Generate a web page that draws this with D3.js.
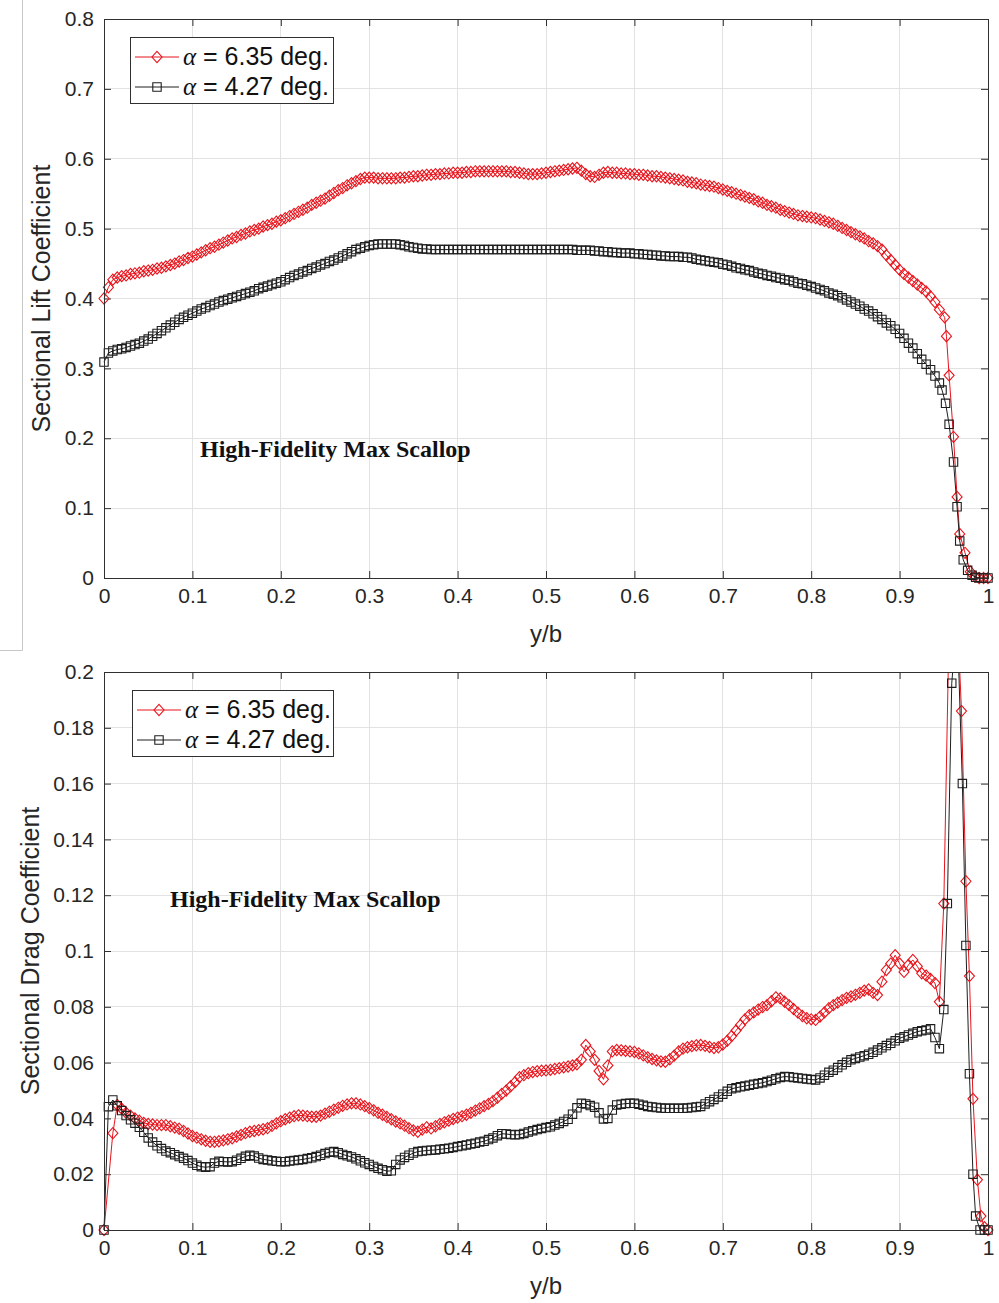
<!DOCTYPE html>
<html>
<head>
<meta charset="utf-8">
<script src="https://cdn.jsdelivr.net/npm/d3@7"></script>
<style>
  body { margin: 0; background: #fff; }
  svg { display: block; }
</style>
</head>
<body>
<svg id="chart" width="999" height="1303"></svg>
<script>
// Spanwise stations (y/b) shared by all four distributions, root to 0.945
const stations = [
  0.000,0.005,0.010,0.015,0.020,0.025,0.030,0.035,0.040,0.045,
  0.050,0.055,0.060,0.065,0.070,0.075,0.080,0.085,0.090,0.095,
  0.100,0.105,0.110,0.115,0.120,0.125,0.130,0.135,0.140,0.145,
  0.150,0.155,0.160,0.165,0.170,0.175,0.180,0.185,0.190,0.195,
  0.200,0.205,0.210,0.215,0.220,0.225,0.230,0.235,0.240,0.245,
  0.250,0.255,0.260,0.265,0.270,0.275,0.280,0.285,0.290,0.295,
  0.300,0.305,0.310,0.315,0.320,0.325,0.330,0.335,0.340,0.345,
  0.350,0.355,0.360,0.365,0.370,0.375,0.380,0.385,0.390,0.395,
  0.400,0.405,0.410,0.415,0.420,0.425,0.430,0.435,0.440,0.445,
  0.450,0.455,0.460,0.465,0.470,0.475,0.480,0.485,0.490,0.495,
  0.500,0.505,0.510,0.515,0.520,0.525,0.530,0.535,0.540,0.545,
  0.550,0.555,0.560,0.565,0.570,0.575,0.580,0.585,0.590,0.595,
  0.600,0.605,0.610,0.615,0.620,0.625,0.630,0.635,0.640,0.645,
  0.650,0.655,0.660,0.665,0.670,0.675,0.680,0.685,0.690,0.695,
  0.700,0.705,0.710,0.715,0.720,0.725,0.730,0.735,0.740,0.745,
  0.750,0.755,0.760,0.765,0.770,0.775,0.780,0.785,0.790,0.795,
  0.800,0.805,0.810,0.815,0.820,0.825,0.830,0.835,0.840,0.845,
  0.850,0.855,0.860,0.865,0.870,0.875,0.880,0.885,0.890,0.895,
  0.900,0.905,0.910,0.915,0.920,0.925,0.930,0.935,0.940,0.945
];

// Sectional lift coefficient, alpha = 6.35 deg
const liftHigh = [
  0.400,0.416,0.427,0.430,0.432,0.433,0.435,0.436,0.437,0.439,
  0.440,0.441,0.443,0.444,0.446,0.448,0.450,0.453,0.455,0.458,
  0.460,0.463,0.466,0.469,0.472,0.474,0.477,0.480,0.483,0.486,
  0.488,0.491,0.493,0.496,0.498,0.500,0.503,0.505,0.507,0.510,
  0.512,0.515,0.518,0.521,0.524,0.527,0.530,0.534,0.537,0.540,
  0.543,0.547,0.551,0.555,0.558,0.562,0.565,0.568,0.571,0.573,
  0.573,0.573,0.572,0.572,0.572,0.572,0.572,0.573,0.573,0.574,
  0.575,0.575,0.576,0.577,0.577,0.578,0.578,0.579,0.579,0.580,
  0.580,0.580,0.581,0.581,0.582,0.582,0.582,0.582,0.582,0.582,
  0.582,0.582,0.581,0.581,0.580,0.579,0.578,0.578,0.578,0.579,
  0.580,0.581,0.582,0.583,0.584,0.585,0.586,0.587,0.583,0.578,
  0.575,0.574,0.577,0.580,0.581,0.580,0.580,0.579,0.579,0.578,
  0.578,0.577,0.577,0.576,0.575,0.575,0.574,0.573,0.572,0.571,
  0.570,0.569,0.567,0.566,0.565,0.563,0.562,0.561,0.560,0.558,
  0.556,0.554,0.552,0.550,0.548,0.546,0.544,0.542,0.539,0.537,
  0.534,0.532,0.530,0.527,0.525,0.523,0.521,0.519,0.518,0.517,
  0.516,0.515,0.513,0.511,0.509,0.507,0.504,0.501,0.498,0.495,
  0.492,0.489,0.486,0.482,0.479,0.475,0.470,0.462,0.455,0.448,
  0.441,0.435,0.430,0.425,0.420,0.415,0.410,0.403,0.395,0.384
];
const liftHighTip = [
  [0.951,0.373],[0.953,0.346],[0.956,0.290],[0.961,0.202],[0.965,0.116],
  [0.968,0.063],[0.974,0.036],[0.980,0.009],[0.985,0.002],[0.990,0],[0.995,0],[1.000,0]
];

// Sectional lift coefficient, alpha = 4.27 deg
const liftLow = [
  0.309,0.322,0.325,0.327,0.328,0.330,0.332,0.334,0.336,0.339,
  0.342,0.346,0.350,0.354,0.358,0.362,0.366,0.370,0.373,0.376,
  0.379,0.382,0.385,0.387,0.390,0.392,0.395,0.397,0.399,0.401,
  0.403,0.405,0.407,0.409,0.411,0.414,0.416,0.418,0.420,0.422,
  0.424,0.427,0.430,0.433,0.435,0.438,0.440,0.443,0.445,0.448,
  0.450,0.453,0.455,0.458,0.461,0.464,0.467,0.470,0.472,0.474,
  0.476,0.477,0.478,0.478,0.478,0.478,0.478,0.477,0.476,0.474,
  0.473,0.472,0.471,0.471,0.470,0.470,0.470,0.470,0.470,0.470,
  0.470,0.470,0.470,0.470,0.470,0.470,0.470,0.470,0.470,0.470,
  0.470,0.470,0.470,0.470,0.470,0.470,0.470,0.470,0.470,0.470,
  0.470,0.470,0.470,0.470,0.470,0.470,0.470,0.469,0.469,0.469,
  0.469,0.468,0.468,0.467,0.467,0.466,0.466,0.465,0.465,0.465,
  0.464,0.464,0.463,0.463,0.462,0.462,0.461,0.461,0.460,0.460,
  0.460,0.459,0.459,0.458,0.456,0.455,0.454,0.453,0.452,0.451,
  0.449,0.448,0.446,0.444,0.443,0.441,0.440,0.438,0.436,0.435,
  0.433,0.432,0.430,0.429,0.427,0.426,0.424,0.422,0.421,0.419,
  0.417,0.415,0.413,0.411,0.408,0.406,0.404,0.401,0.398,0.395,
  0.392,0.389,0.385,0.382,0.378,0.374,0.370,0.365,0.361,0.356,
  0.350,0.343,0.336,0.329,0.321,0.313,0.306,0.298,0.289,0.279
];
const liftLowTip = [
  [0.948,0.269],[0.952,0.250],[0.956,0.220],[0.961,0.166],[0.965,0.102],[0.968,0.053],
  [0.972,0.026],[0.977,0.011],[0.982,0.004],[0.986,0.001],[0.990,0],[0.995,0],[1.000,0]
];

// Sectional drag coefficient, alpha = 6.35 deg (null: no sample at that station)
const dragHigh = [
  0,null,0.0347,0.0448,0.0435,0.0420,0.0410,0.0400,0.0392,0.0384,
  0.0380,0.0378,0.0376,0.0376,0.0376,0.0372,0.0367,0.0363,0.0355,0.0346,
  0.0337,0.0331,0.0325,0.0320,0.0316,0.0316,0.0318,0.0321,0.0325,0.0329,
  0.0335,0.0341,0.0347,0.0352,0.0355,0.0358,0.0361,0.0365,0.0373,0.0382,
  0.0390,0.0397,0.0403,0.0408,0.0411,0.0410,0.0408,0.0406,0.0406,0.0410,
  0.0417,0.0424,0.0431,0.0438,0.0445,0.0450,0.0454,0.0454,0.0450,0.0444,
  0.0437,0.0429,0.0420,0.0413,0.0405,0.0397,0.0389,0.0382,0.0374,0.0365,
  0.0357,0.0352,0.0360,0.0368,0.0364,0.0372,0.0380,0.0386,0.0392,0.0398,
  0.0403,0.0408,0.0413,0.0420,0.0428,0.0436,0.0444,0.0452,0.0462,0.0474,
  0.0488,0.0500,0.0515,0.0530,0.0548,0.0555,0.0562,0.0566,0.0569,0.0571,
  0.0572,0.0574,0.0577,0.0580,0.0583,0.0586,0.0590,0.0594,0.0610,0.0663,
  0.0640,0.0610,0.0570,0.0540,0.0590,0.0640,0.0645,0.0644,0.0642,0.0640,
  0.0638,0.0633,0.0626,0.0619,0.0613,0.0608,0.0604,0.0603,0.0612,0.0625,
  0.0640,0.0650,0.0655,0.0659,0.0662,0.0663,0.0660,0.0656,0.0652,0.0655,
  0.0665,0.0678,0.0695,0.0715,0.0735,0.0755,0.0770,0.0780,0.0790,0.0799,
  0.0806,0.0820,0.0834,0.0830,0.0818,0.0806,0.0792,0.0779,0.0767,0.0759,
  0.0755,0.0753,0.0765,0.0780,0.0795,0.0806,0.0815,0.0824,0.0832,0.0837,
  0.0843,0.0850,0.0858,0.0862,0.0850,0.0842,0.0890,0.0932,0.0955,0.0985,
  0.0955,0.0925,0.0950,0.0968,0.0945,0.0920,0.0912,0.0900,0.0885,0.0818
];
const dragHighTip = [
  [0.950,0.117],[0.959,0.267],[0.970,0.186],[0.975,0.125],[0.979,0.091],
  [0.983,0.047],[0.988,0.018],[0.992,0.005],[0.996,0.001],[1.000,0]
];

// Sectional drag coefficient, alpha = 4.27 deg
const dragLow = [
  0,0.0442,0.0466,0.0445,0.0428,0.0410,0.0395,0.0383,0.0368,0.0350,
  0.0330,0.0315,0.0302,0.0292,0.0283,0.0277,0.0270,0.0263,0.0257,0.0249,
  0.0240,0.0232,0.0227,0.0225,0.0227,0.0240,0.0246,0.0245,0.0244,0.0245,
  0.0250,0.0257,0.0264,0.0268,0.0265,0.0258,0.0253,0.0251,0.0248,0.0246,
  0.0245,0.0245,0.0247,0.0249,0.0251,0.0253,0.0256,0.0259,0.0263,0.0268,
  0.0274,0.0279,0.0281,0.0277,0.0271,0.0266,0.0262,0.0255,0.0248,0.0241,
  0.0235,0.0228,0.0221,0.0216,0.0211,0.0212,0.0235,0.0251,0.0260,0.0268,
  0.0276,0.0281,0.0283,0.0285,0.0286,0.0287,0.0289,0.0291,0.0293,0.0296,
  0.0299,0.0302,0.0305,0.0308,0.0311,0.0315,0.0318,0.0324,0.0330,0.0338,
  0.0345,0.0344,0.0342,0.0341,0.0342,0.0346,0.0351,0.0356,0.0360,0.0364,
  0.0367,0.0370,0.0376,0.0382,0.0389,0.0397,0.0415,0.0438,0.0454,0.0452,
  0.0446,0.0440,0.0420,0.0398,0.0400,0.0430,0.0448,0.0451,0.0453,0.0454,
  0.0454,0.0451,0.0447,0.0443,0.0441,0.0439,0.0437,0.0436,0.0436,0.0436,
  0.0436,0.0436,0.0437,0.0439,0.0441,0.0443,0.0452,0.0460,0.0468,0.0477,
  0.0487,0.0497,0.0506,0.0510,0.0513,0.0516,0.0519,0.0522,0.0525,0.0528,
  0.0532,0.0537,0.0542,0.0547,0.0550,0.0549,0.0547,0.0545,0.0543,0.0541,
  0.0539,0.0538,0.0545,0.0555,0.0565,0.0573,0.0582,0.0592,0.0601,0.0610,
  0.0615,0.0620,0.0625,0.0630,0.0637,0.0645,0.0653,0.0661,0.0669,0.0678,
  0.0687,0.0693,0.0699,0.0705,0.0711,0.0714,0.0717,0.0721,0.0690,0.0650
];
const dragLowTip = [
  [0.950,0.079],[0.954,0.117],[0.959,0.196],[0.965,0.220],[0.971,0.160],[0.975,0.102],
  [0.979,0.056],[0.983,0.020],[0.986,0.005],[0.991,0],[0.996,0],[1.000,0]
];

const xTicks = [0, 0.1, 0.2, 0.3, 0.4, 0.5, 0.6, 0.7, 0.8, 0.9, 1];
const xTickLabels = ["0", "0.1", "0.2", "0.3", "0.4", "0.5", "0.6", "0.7", "0.8", "0.9", "1"];
const liftTicks = [0, 0.1, 0.2, 0.3, 0.4, 0.5, 0.6, 0.7, 0.8];
const liftTickLabels = ["0", "0.1", "0.2", "0.3", "0.4", "0.5", "0.6", "0.7", "0.8"];
const dragTicks = [0, 0.02, 0.04, 0.06, 0.08, 0.1, 0.12, 0.14, 0.16, 0.18, 0.2];
const dragTickLabels = ["0", "0.02", "0.04", "0.06", "0.08", "0.1", "0.12", "0.14", "0.16", "0.18", "0.2"];
const seriesNames = ["6.35 deg.", "4.27 deg."];
const caseTitle = "High-Fidelity Max Scallop";

const SANS = "'Liberation Sans', Arial, Helvetica, sans-serif";
const SERIF = "'Liberation Serif', 'Times New Roman', serif";
const RED = "#e8141c";
const DARK = "#1e1e1e";
const AXIS = "#303030";

const svg = d3.select("#chart");

// Thin frame stroke left of the upper panel
svg.append("path")
  .attr("d", "M22.5,0 V650.5 H0")
  .attr("fill", "none")
  .attr("stroke", "#c8c8c8")
  .attr("stroke-width", 1);

function toPoints(values, tip) {
  const pts = [];
  stations.forEach((s, i) => { if (values[i] !== null) pts.push([s, values[i]]); });
  return pts.concat(tip);
}

function diamondPath(h) { return `M0,${-h}L${h * 0.9},0L0,${h}L${-h * 0.9},0Z`; }
function squarePath(h) { return `M${-h},${-h}H${h}V${h}H${-h}Z`; }

function drawMarker(sel, kind) {
  if (kind === "diamond") {
    sel.append("path").attr("d", diamondPath(5.6)).attr("fill", "none").attr("stroke", RED).attr("stroke-width", 1.1);
  } else {
    sel.append("path").attr("d", squarePath(4.2)).attr("fill", "none").attr("stroke", DARK).attr("stroke-width", 1.1);
  }
}

function drawPanel(p) {
  const g = svg.append("g");
  const left = 104, right = 988;
  const x = d3.scaleLinear().domain([0, 1]).range([left, right]);
  const y = d3.scaleLinear().domain(p.yDomain).range([p.bottom, p.top]);

  // grid
  g.append("g").selectAll("line").data(xTicks.slice(1, -1)).join("line")
    .attr("x1", d => x(d)).attr("x2", d => x(d))
    .attr("y1", p.top).attr("y2", p.bottom)
    .attr("stroke", "#e2e2e2").attr("stroke-width", 1).attr("shape-rendering", "crispEdges");
  g.append("g").selectAll("line").data(p.yTicks.slice(1, -1)).join("line")
    .attr("x1", left).attr("x2", right)
    .attr("y1", d => y(d)).attr("y2", d => y(d))
    .attr("stroke", "#e2e2e2").attr("stroke-width", 1).attr("shape-rendering", "crispEdges");

  // axes with inward ticks on all four sides
  const styleAxis = a => {
    a.select(".domain").remove();
    a.selectAll("line").attr("stroke", AXIS);
    a.selectAll("text").attr("fill", "#262626").attr("font-family", SANS).attr("font-size", 21);
  };
  g.append("g").attr("transform", `translate(0,${p.bottom})`)
    .call(d3.axisBottom(x).tickValues(xTicks).tickFormat((d, i) => xTickLabels[i])
      .tickSizeInner(-7).tickSizeOuter(0).tickPadding(10))
    .call(styleAxis);
  g.append("g").attr("transform", `translate(0,${p.top})`)
    .call(d3.axisTop(x).tickValues(xTicks).tickFormat("").tickSizeInner(-7).tickSizeOuter(0))
    .call(styleAxis);
  g.append("g").attr("transform", `translate(${left},0)`)
    .call(d3.axisLeft(y).tickValues(p.yTicks).tickFormat((d, i) => p.yTickLabels[i])
      .tickSizeInner(-7).tickSizeOuter(0).tickPadding(10))
    .call(styleAxis);
  g.append("g").attr("transform", `translate(${right},0)`)
    .call(d3.axisRight(y).tickValues(p.yTicks).tickFormat("").tickSizeInner(-7).tickSizeOuter(0))
    .call(styleAxis);

  // series
  const clipId = "clip-" + p.id;
  g.append("clipPath").attr("id", clipId)
    .append("rect").attr("x", left - 1).attr("y", p.top).attr("width", right - left + 2).attr("height", p.bottom - p.top + 1);

  const line = d3.line().x(d => x(d[0])).y(d => y(d[1]));
  const [y0, y1] = p.yDomain;
  p.series.forEach(s => {
    g.append("path").datum(s.points)
      .attr("d", line)
      .attr("fill", "none")
      .attr("stroke", s.color)
      .attr("stroke-width", 1)
      .attr("clip-path", `url(#${clipId})`);
    const inside = s.points.filter(d => d[1] >= y0 && d[1] <= y1);
    g.append("g").selectAll("g").data(inside).join("g")
      .attr("transform", d => `translate(${x(d[0])},${y(d[1])})`)
      .each(function () { drawMarker(d3.select(this), s.marker); });
  });

  // axes box
  g.append("rect").attr("x", left + 0.5).attr("y", p.top + 0.5)
    .attr("width", right - left).attr("height", p.bottom - p.top)
    .attr("fill", "none").attr("stroke", AXIS).attr("stroke-width", 1);

  // axis titles
  g.append("text").attr("x", (left + right) / 2).attr("y", p.bottom + 64)
    .attr("text-anchor", "middle").attr("font-family", SANS).attr("font-size", 24)
    .attr("fill", "#262626").text("y/b");
  g.append("text")
    .attr("transform", `translate(${p.yTitleX},${(p.top + p.bottom) / 2}) rotate(-90)`)
    .attr("text-anchor", "middle").attr("font-family", SANS).attr("font-size", 25)
    .attr("fill", "#262626").text(p.yTitle);

  // case annotation
  g.append("text").attr("x", p.noteX).attr("y", p.noteY)
    .attr("font-family", SERIF).attr("font-weight", "bold").attr("font-size", 24)
    .attr("fill", "#111").text(caseTitle);

  // legend
  const lg = g.append("g").attr("transform", `translate(${p.legendX},${p.legendY})`);
  lg.append("rect").attr("x", 0.5).attr("y", 0.5).attr("width", p.legendW).attr("height", 66)
    .attr("fill", "#fff").attr("stroke", AXIS).attr("stroke-width", 1);
  p.series.forEach((s, i) => {
    const ry = 20 + i * 30;
    lg.append("line").attr("x1", 5).attr("x2", 49).attr("y1", ry).attr("y2", ry)
      .attr("stroke", s.color).attr("stroke-width", 1);
    drawMarker(lg.append("g").attr("transform", `translate(27,${ry})`), s.marker);
    const t = lg.append("text").attr("x", 53).attr("y", ry + 8)
      .attr("font-family", SANS).attr("font-size", 25).attr("fill", "#111");
    t.append("tspan").attr("font-family", SERIF).attr("font-style", "italic").text("\u03b1");
    t.append("tspan").text(" = " + seriesNames[i]);
  });
}

drawPanel({
  id: "lift", top: 19, bottom: 578,
  yDomain: [0, 0.8], yTicks: liftTicks, yTickLabels: liftTickLabels,
  yTitle: "Sectional Lift Coefficient", yTitleX: 50,
  noteX: 200, noteY: 457,
  legendX: 130, legendY: 37, legendW: 203,
  series: [
    { points: toPoints(liftHigh, liftHighTip), color: RED, marker: "diamond" },
    { points: toPoints(liftLow, liftLowTip), color: DARK, marker: "square" }
  ]
});

drawPanel({
  id: "drag", top: 672, bottom: 1230,
  yDomain: [0, 0.2], yTicks: dragTicks, yTickLabels: dragTickLabels,
  yTitle: "Sectional Drag Coefficient", yTitleX: 39,
  noteX: 170, noteY: 907,
  legendX: 132, legendY: 690, legendW: 201,
  series: [
    { points: toPoints(dragHigh, dragHighTip), color: RED, marker: "diamond" },
    { points: toPoints(dragLow, dragLowTip), color: DARK, marker: "square" }
  ]
});
</script>
</body>
</html>
